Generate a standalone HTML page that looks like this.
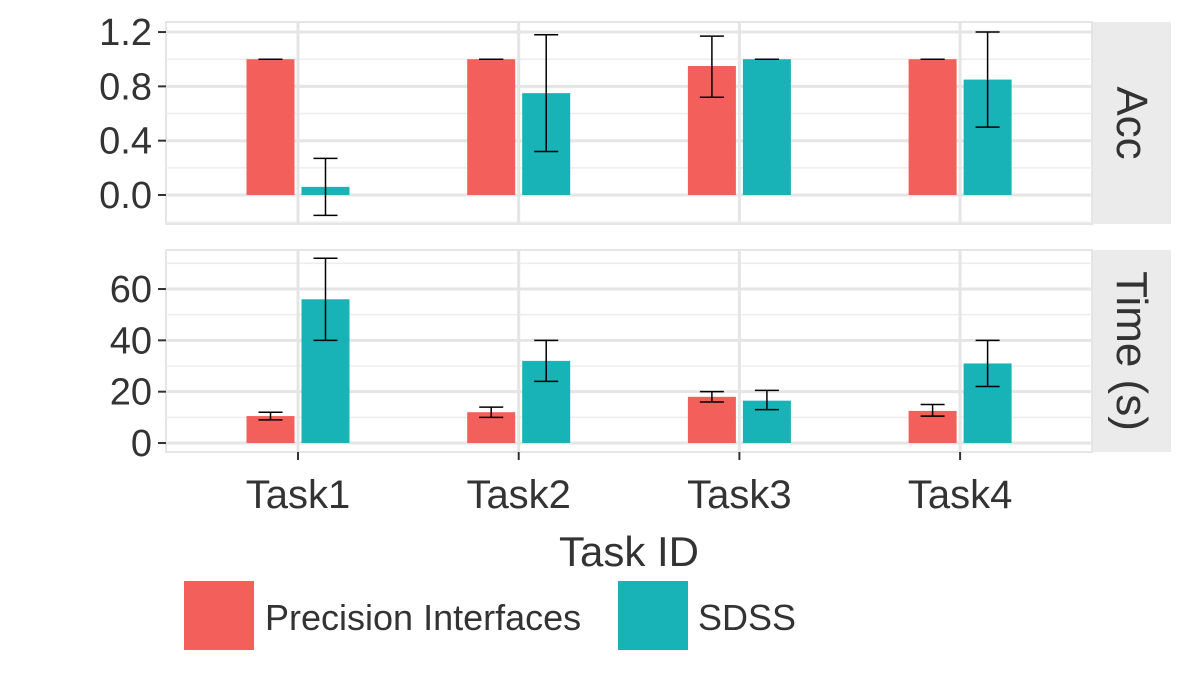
<!DOCTYPE html>
<html><head><meta charset="utf-8"><style>
body{margin:0;background:#fff;}
svg text{font-family:"Liberation Sans",sans-serif;fill:#333;}
</style></head><body>
<svg id="c" width="1200" height="675" xmlns="http://www.w3.org/2000/svg"></svg>
<script>
const categories=["Task1","Task2","Task3","Task4"];
const series=["Precision Interfaces","SDSS"];
const colors=["#F35F5A","#17B3B7"];
const accPI=[1.0,1.0,0.95,1.0];
const accPIlo=[1.0,1.0,0.72,1.0];
const accPIhi=[1.0,1.0,1.17,1.0];
const accSD=[0.06,0.75,1.0,0.85];
const accSDlo=[-0.15,0.32,1.0,0.5];
const accSDhi=[0.27,1.18,1.0,1.2];
const timePI=[10.5,12,18,12.5];
const timePIlo=[9,10,16,10.5];
const timePIhi=[12,14,20,15];
const timeSD=[56,32,16.5,31];
const timeSDlo=[40,24,13,22];
const timeSDhi=[72,40,20.5,40];
const accTicks=[0,0.4,0.8,1.2];
const accTickLabels=["0.0","0.4","0.8","1.2"];
const timeTicks=[0,20,40,60];
const timeTickLabels=["0","20","40","60"];

const svg=document.getElementById('c');
const NS="http://www.w3.org/2000/svg";
function mk(t,a,p){const e=document.createElementNS(NS,t);for(const k in a)e.setAttribute(k,a[k]);(p||svg).appendChild(e);return e;}
const X0=166,X1=1092;
const xc=i=>298+i*220.7;
const bw=48;

function panel(y0,y1,vmin,vmax,ticks,labels,minors,d,strip,name){
  const ys=v=>y1-(v-vmin)/(vmax-vmin)*(y1-y0);
  const g=mk('g',{});
  
  
  mk('rect',{x:X0,y:y0,width:X1-X0,height:y1-y0,fill:'#fff',stroke:'#e5e5e5','stroke-width':2},g);
  minors.forEach(v=>mk('line',{x1:X0,x2:X1,y1:ys(v),y2:ys(v),stroke:'#ededed','stroke-width':1.5},g));
  ticks.forEach(v=>mk('line',{x1:X0,x2:X1,y1:ys(v),y2:ys(v),stroke:'#e5e5e5','stroke-width':3},g));
  categories.forEach((c,i)=>mk('line',{x1:xc(i),x2:xc(i),y1:y0,y2:y1,stroke:'#e5e5e5','stroke-width':3},g));
  ticks.forEach((v,i)=>{
    mk('line',{x1:X0-8,x2:X0,y1:ys(v),y2:ys(v),stroke:'#333','stroke-width':2},g);
    const t=mk('text',{x:X0-14,y:ys(v)+13,'text-anchor':'end','font-size':38},g);
    t.textContent=labels[i];
    
    
  });
  categories.forEach((c,i)=>{
    [[d[0],d[1],d[2],0],[d[3],d[4],d[5],1]].forEach(([v,lo,hi,s])=>{
      const x=xc(i)+(s===0?-bw-3.5:3.5);
      const r=mk('rect',{x:x,y:Math.min(ys(v[i]),ys(0)),width:bw,height:Math.abs(ys(0)-ys(v[i])),fill:colors[s]},g);
      
      
      const cx=x+bw/2;
      mk('line',{x1:cx,x2:cx,y1:ys(lo[i]),y2:ys(hi[i]),stroke:'#000','stroke-width':1.5},g);
      mk('line',{x1:cx-12,x2:cx+12,y1:ys(lo[i]),y2:ys(lo[i]),stroke:'#000','stroke-width':1.5},g);
      mk('line',{x1:cx-12,x2:cx+12,y1:ys(hi[i]),y2:ys(hi[i]),stroke:'#000','stroke-width':1.5},g);
    });
  });
  mk('rect',{x:1093,y:y0,width:78,height:y1-y0,fill:'#ebebeb'},g);
  const st=mk('text',{x:0,y:0,'text-anchor':'middle','font-size':44,transform:`translate(1117,${(y0+y1)/2}) rotate(90)`},g);
  st.textContent=strip;
  
  
}
panel(22,224,-0.2135,1.274,accTicks,accTickLabels,[-0.2,0.2,0.6,1.0],[accPI,accPIlo,accPIhi,accSD,accSDlo,accSDhi],"Acc","acc");
panel(250,452,-3.5,75.2,timeTicks,timeTickLabels,[10,30,50,70],[timePI,timePIlo,timePIhi,timeSD,timeSDlo,timeSDhi],"Time (s)","time");
categories.forEach((c,i)=>{
  mk('line',{x1:xc(i),x2:xc(i),y1:452,y2:460,stroke:'#333','stroke-width':2});
  const t=mk('text',{x:xc(i),y:508,'text-anchor':'middle','font-size':40});
  t.textContent=c;
  
  
});
const xt=mk('text',{x:629,y:566,'text-anchor':'middle','font-size':42});
xt.textContent="Task ID";


const lx=[184,618],tx=[265,698];
series.forEach((s,i)=>{
  const r=mk('rect',{x:lx[i],y:581,width:70,height:69,fill:colors[i]});
  
  
  const t=mk('text',{x:tx[i],y:630,'font-size':36});
  t.textContent=s;
  
  
});
</script>
</body></html>
